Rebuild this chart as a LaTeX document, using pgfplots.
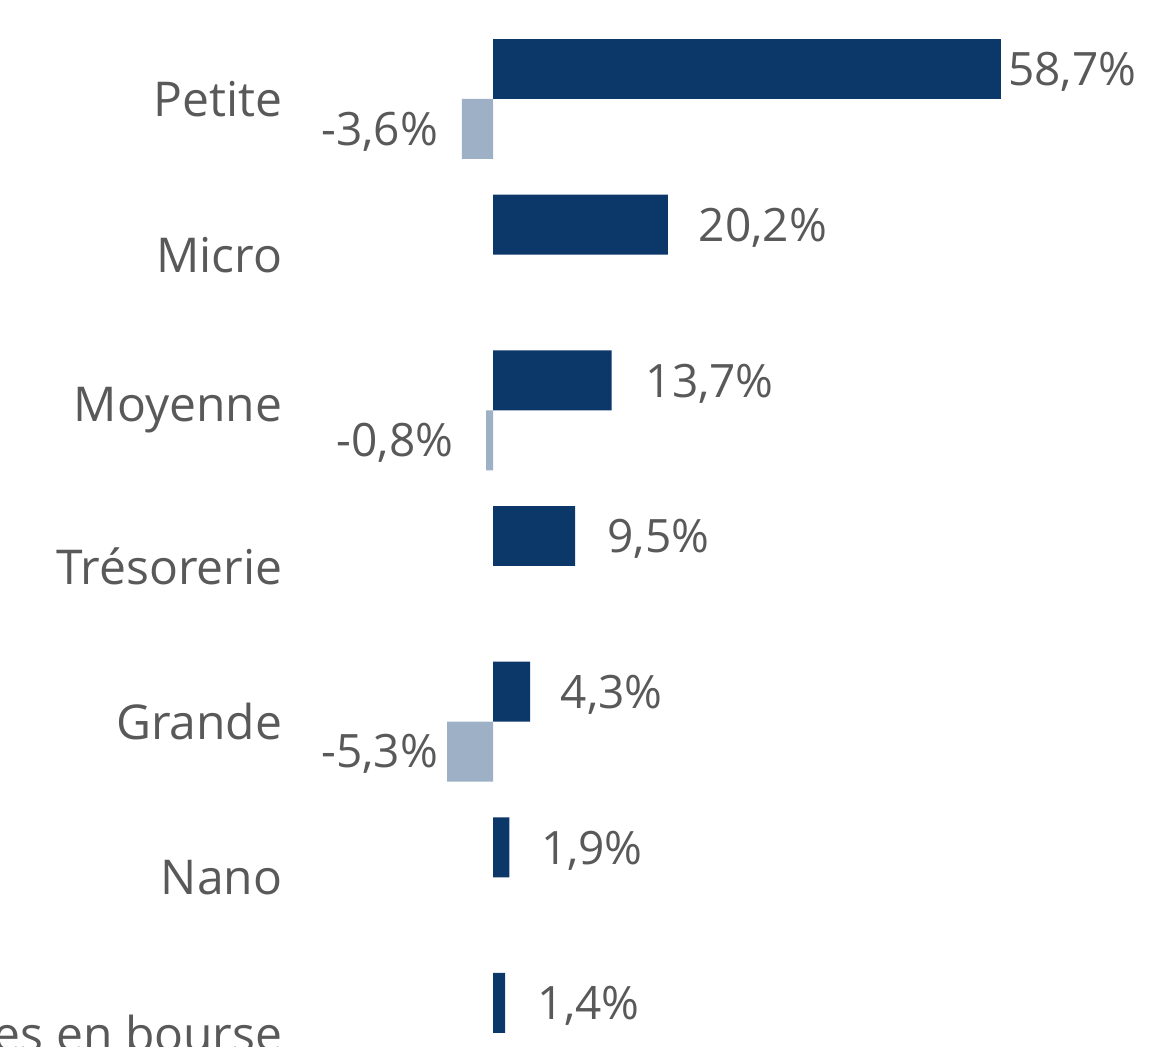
\documentclass[border=0pt]{standalone}
\usepackage{fontspec}
\setmainfont{Open Sans}
\usepackage{pgfplots}
\pgfplotsset{compat=1.18}
\definecolor{darkb}{HTML}{0C3769}
\definecolor{lightb}{HTML}{9DB0C6}
\definecolor{txt}{HTML}{595959}
\pgfplotsset{lab/.style={only marks, mark=none,
  point meta=explicit symbolic, nodes near coords,
  nodes near coords style={anchor=#1, inner sep=0pt, font=\fontsize{23}{27}\selectfont, text=txt}}}
\begin{document}
\begin{tikzpicture}
\useasboundingbox (0,0) rectangle (587pt,523.5pt);
\clip (0,0) rectangle (587pt,523.5pt);
\begin{axis}[at={(0,0)}, anchor=south west, scale only axis,
  width=587pt, height=523.5pt,
  xmin=-56.97, xmax=78.69, ymin=-0.636, ymax=6.09, y dir=reverse,
  hide axis, clip=false]
% dark series
\addplot[xbar, fill=darkb, draw=none, bar width=0.3854, bar shift=0pt] coordinates {
 (58.7,-0.1927) (20.2,0.8073) (13.7,1.8073) (9.5,2.8073) (4.3,3.8073) (1.9,4.8073) (1.4,5.8073)};
% light series
\addplot[xbar, fill=lightb, draw=none, bar width=0.3854, bar shift=0pt] coordinates {
 (-3.6,0.1927) (-0.8,2.1927) (-5.3,4.1927)};
% value labels, dark
\addplot[lab=west]
 coordinates {(59.5,-0.1727) [58,7\%] (23.75,0.8273) [20,2\%] (17.6,1.8273) [13,7\%]
 (13.2,2.8273) [9,5\%] (7.8,3.8273) [4,3\%] (5.5,4.8273) [1,9\%] (5.15,5.8273) [1,4\%]};
% value labels, light
\addplot[lab=east]
 coordinates {(-6.3,0.2077) [-3,6\%] (-4.55,2.2077) [-0,8\%] (-6.3,4.2077) [-5,3\%]};
% category labels
\addplot[lab=east, nodes near coords style={font=\fontsize{24}{28}\selectfont}]
 coordinates {(-24.3,0) [Petite] (-24.3,1) [Micro] (-24.3,2) [Moyenne] (-24.3,3) [Trésorerie]
 (-24.3,4) [Grande] (-24.3,5) [Nano] (-24.3,6) [Sociétés cotées en bourse]};
\end{axis}
\end{tikzpicture}
\end{document}
